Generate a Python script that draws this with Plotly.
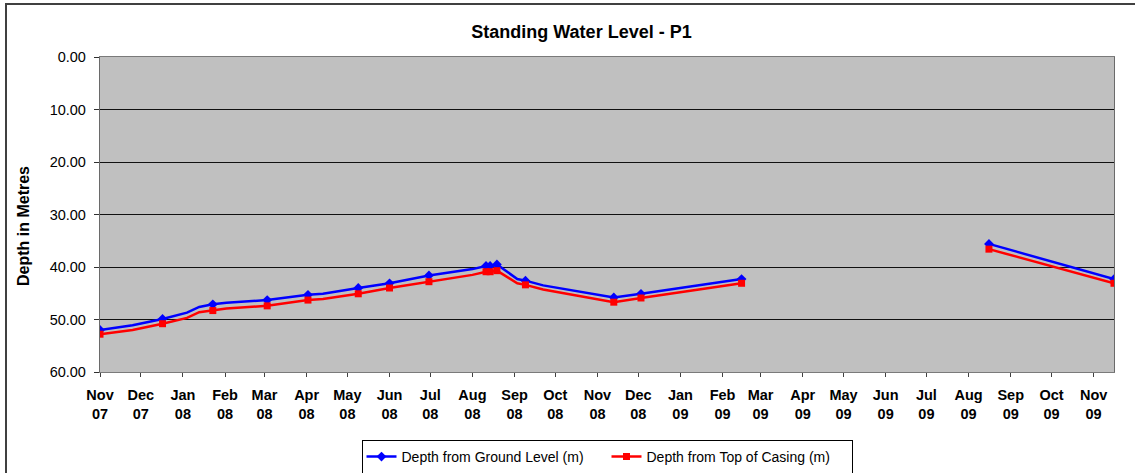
import plotly.graph_objects as go

# ---- data ----
path_dates = ['2007-11-01', '2007-11-25', '2007-12-17', '2008-01-04', '2008-01-13',
              '2008-01-23', '2008-02-02', '2008-03-03', '2008-04-02', '2008-04-13',
              '2008-05-09', '2008-06-01', '2008-06-30', '2008-08-01', '2008-08-11',
              '2008-08-14', '2008-08-19', '2008-09-03', '2008-09-09', '2008-09-22',
              '2008-11-13', '2008-12-03', '2009-02-15', '2009-05-15', '2009-08-16',
              '2009-11-16']
ground_level = [52.0, 51.1, 49.9, 48.7, 47.6, 47.1, 46.8, 46.3, 45.3, 45.1,
                44.0, 43.1, 41.6, 40.4, 39.8, 39.8, 39.5, 42.3, 42.6, 43.5,
                45.8, 45.1, 42.3, None, 35.6, 42.3]
top_of_casing = [52.8, 52.0, 50.8, 49.7, 48.6, 48.3, 47.9, 47.4, 46.3, 46.1,
                 45.1, 44.0, 42.8, 41.5, 40.9, 40.9, 40.7, 43.1, 43.4, 44.3,
                 46.7, 45.9, 43.1, None, 36.6, 43.1]
has_marker = [True, False, True, False, False, True, False, True, True, False,
              True, True, True, False, True, True, True, False, True, False,
              True, True, True, False, True, True]

tick_dates = ['2007-11-01', '2007-12-01', '2008-01-01', '2008-02-01', '2008-03-01',
              '2008-04-01', '2008-05-01', '2008-06-01', '2008-07-01', '2008-08-01',
              '2008-09-01', '2008-10-01', '2008-11-01', '2008-12-01', '2009-01-01',
              '2009-02-01', '2009-03-01', '2009-04-01', '2009-05-01', '2009-06-01',
              '2009-07-01', '2009-08-01', '2009-09-01', '2009-10-01', '2009-11-01']
tick_labels = ['Nov<br>07', 'Dec<br>07', 'Jan<br>08', 'Feb<br>08', 'Mar<br>08',
               'Apr<br>08', 'May<br>08', 'Jun<br>08', 'Jul<br>08', 'Aug<br>08',
               'Sep<br>08', 'Oct<br>08', 'Nov<br>08', 'Dec<br>08', 'Jan<br>09',
               'Feb<br>09', 'Mar<br>09', 'Apr<br>09', 'May<br>09', 'Jun<br>09',
               'Jul<br>09', 'Aug<br>09', 'Sep<br>09', 'Oct<br>09', 'Nov<br>09']

series = [
    ('Depth from Ground Level (m)', ground_level, '#0000FF', 'diamond', 7.5),
    ('Depth from Top of Casing (m)', top_of_casing, '#FF0000', 'square', 7),
]

FONT = 'Liberation Sans, Arial, sans-serif'

fig = go.Figure()
for name, vals, color, sym, msize in series:
    fig.add_trace(go.Scatter(
        x=path_dates, y=vals, mode='lines', connectgaps=False,
        line=dict(color=color, width=2.5), showlegend=False, legendgroup=name,
        hoverinfo='skip'))
    mx = [d for d, m, v in zip(path_dates, has_marker, vals) if m and v is not None]
    my = [v for m, v in zip(has_marker, vals) if m and v is not None]
    fig.add_trace(go.Scatter(
        x=mx, y=my, mode='markers', name=name, legendgroup=name,
        marker=dict(color=color, symbol=sym, size=msize, line=dict(width=0)),
        showlegend=False))
    # legend entry (line + marker), no data of its own
    fig.add_trace(go.Scatter(
        x=[None], y=[None], mode='lines+markers', name=name, legendgroup=name,
        line=dict(color=color, width=2.5),
        marker=dict(color=color, symbol=sym, size=msize)))

L, R, T, B = 100, 21, 57, 101
W, H = 1135, 473
pw, ph = W - L - R, H - T - B

def px_x(p):
    return (p - L) / pw

def px_y(p):
    return (H - B - p) / ph

fig.update_layout(
    width=W, height=H,
    margin=dict(l=L, r=R, t=T, b=B, autoexpand=False),
    paper_bgcolor='white', plot_bgcolor='#C0C0C0',
    font=dict(family=FONT, color='black'),
    title=dict(text='Standing Water Level - P1',
               font=dict(family=FONT, size=18, weight='bold', color='black'),
               xref='paper', x=px_x(581.5), xanchor='center',
               yref='container', y=1 - 31.7 / H, yanchor='middle'),
    xaxis=dict(type='date', range=['2007-11-01', '2009-11-16'],
               tickvals=tick_dates, ticktext=tick_labels,
               tickfont=dict(family=FONT, size=14.5, weight='bold', color='black'),
               ticks='outside', ticklen=4, tickcolor='#404040',
               ticklabelstandoff=6,
               showgrid=False, zeroline=False,
               showline=True, linecolor='#7a7a7a', linewidth=1, mirror=True),
    yaxis=dict(range=[60, 0], dtick=10, tick0=0, tickformat='.2f',
               tickfont=dict(family=FONT, size=14.5, color='black'),
               ticks='outside', ticklen=5, tickcolor='#303030',
               ticklabelstandoff=5,
               showgrid=True, gridcolor='#111111', gridwidth=1,
               zeroline=False,
               showline=True, linecolor='#6a6a6a', linewidth=1.3, mirror=True),
    legend=dict(orientation='h', x=px_x(607), xanchor='center',
                y=px_y(440), yanchor='top',
                bgcolor='white', bordercolor='black', borderwidth=1,
                font=dict(family=FONT, size=14, color='black'),
                itemwidth=30, tracegroupgap=0,
                entrywidth=200, entrywidthmode='pixels'),
    annotations=[dict(text='Depth in Metres', textangle=-90,
                      font=dict(family=FONT, size=16, weight='bold', color='black'),
                      xref='paper', yref='paper', x=px_x(23), y=px_y(226),
                      xanchor='center', yanchor='middle', showarrow=False)],
    shapes=[dict(type='rect', xref='paper', yref='paper',
                 x0=px_x(6), x1=px_x(1145), y0=px_y(485), y1=px_y(4),
                 line=dict(color='#404040', width=2), layer='below')],
)

fig.write_html('out.html', config={'displayModeBar': False},
               post_script="document.body.style.margin='0';")
